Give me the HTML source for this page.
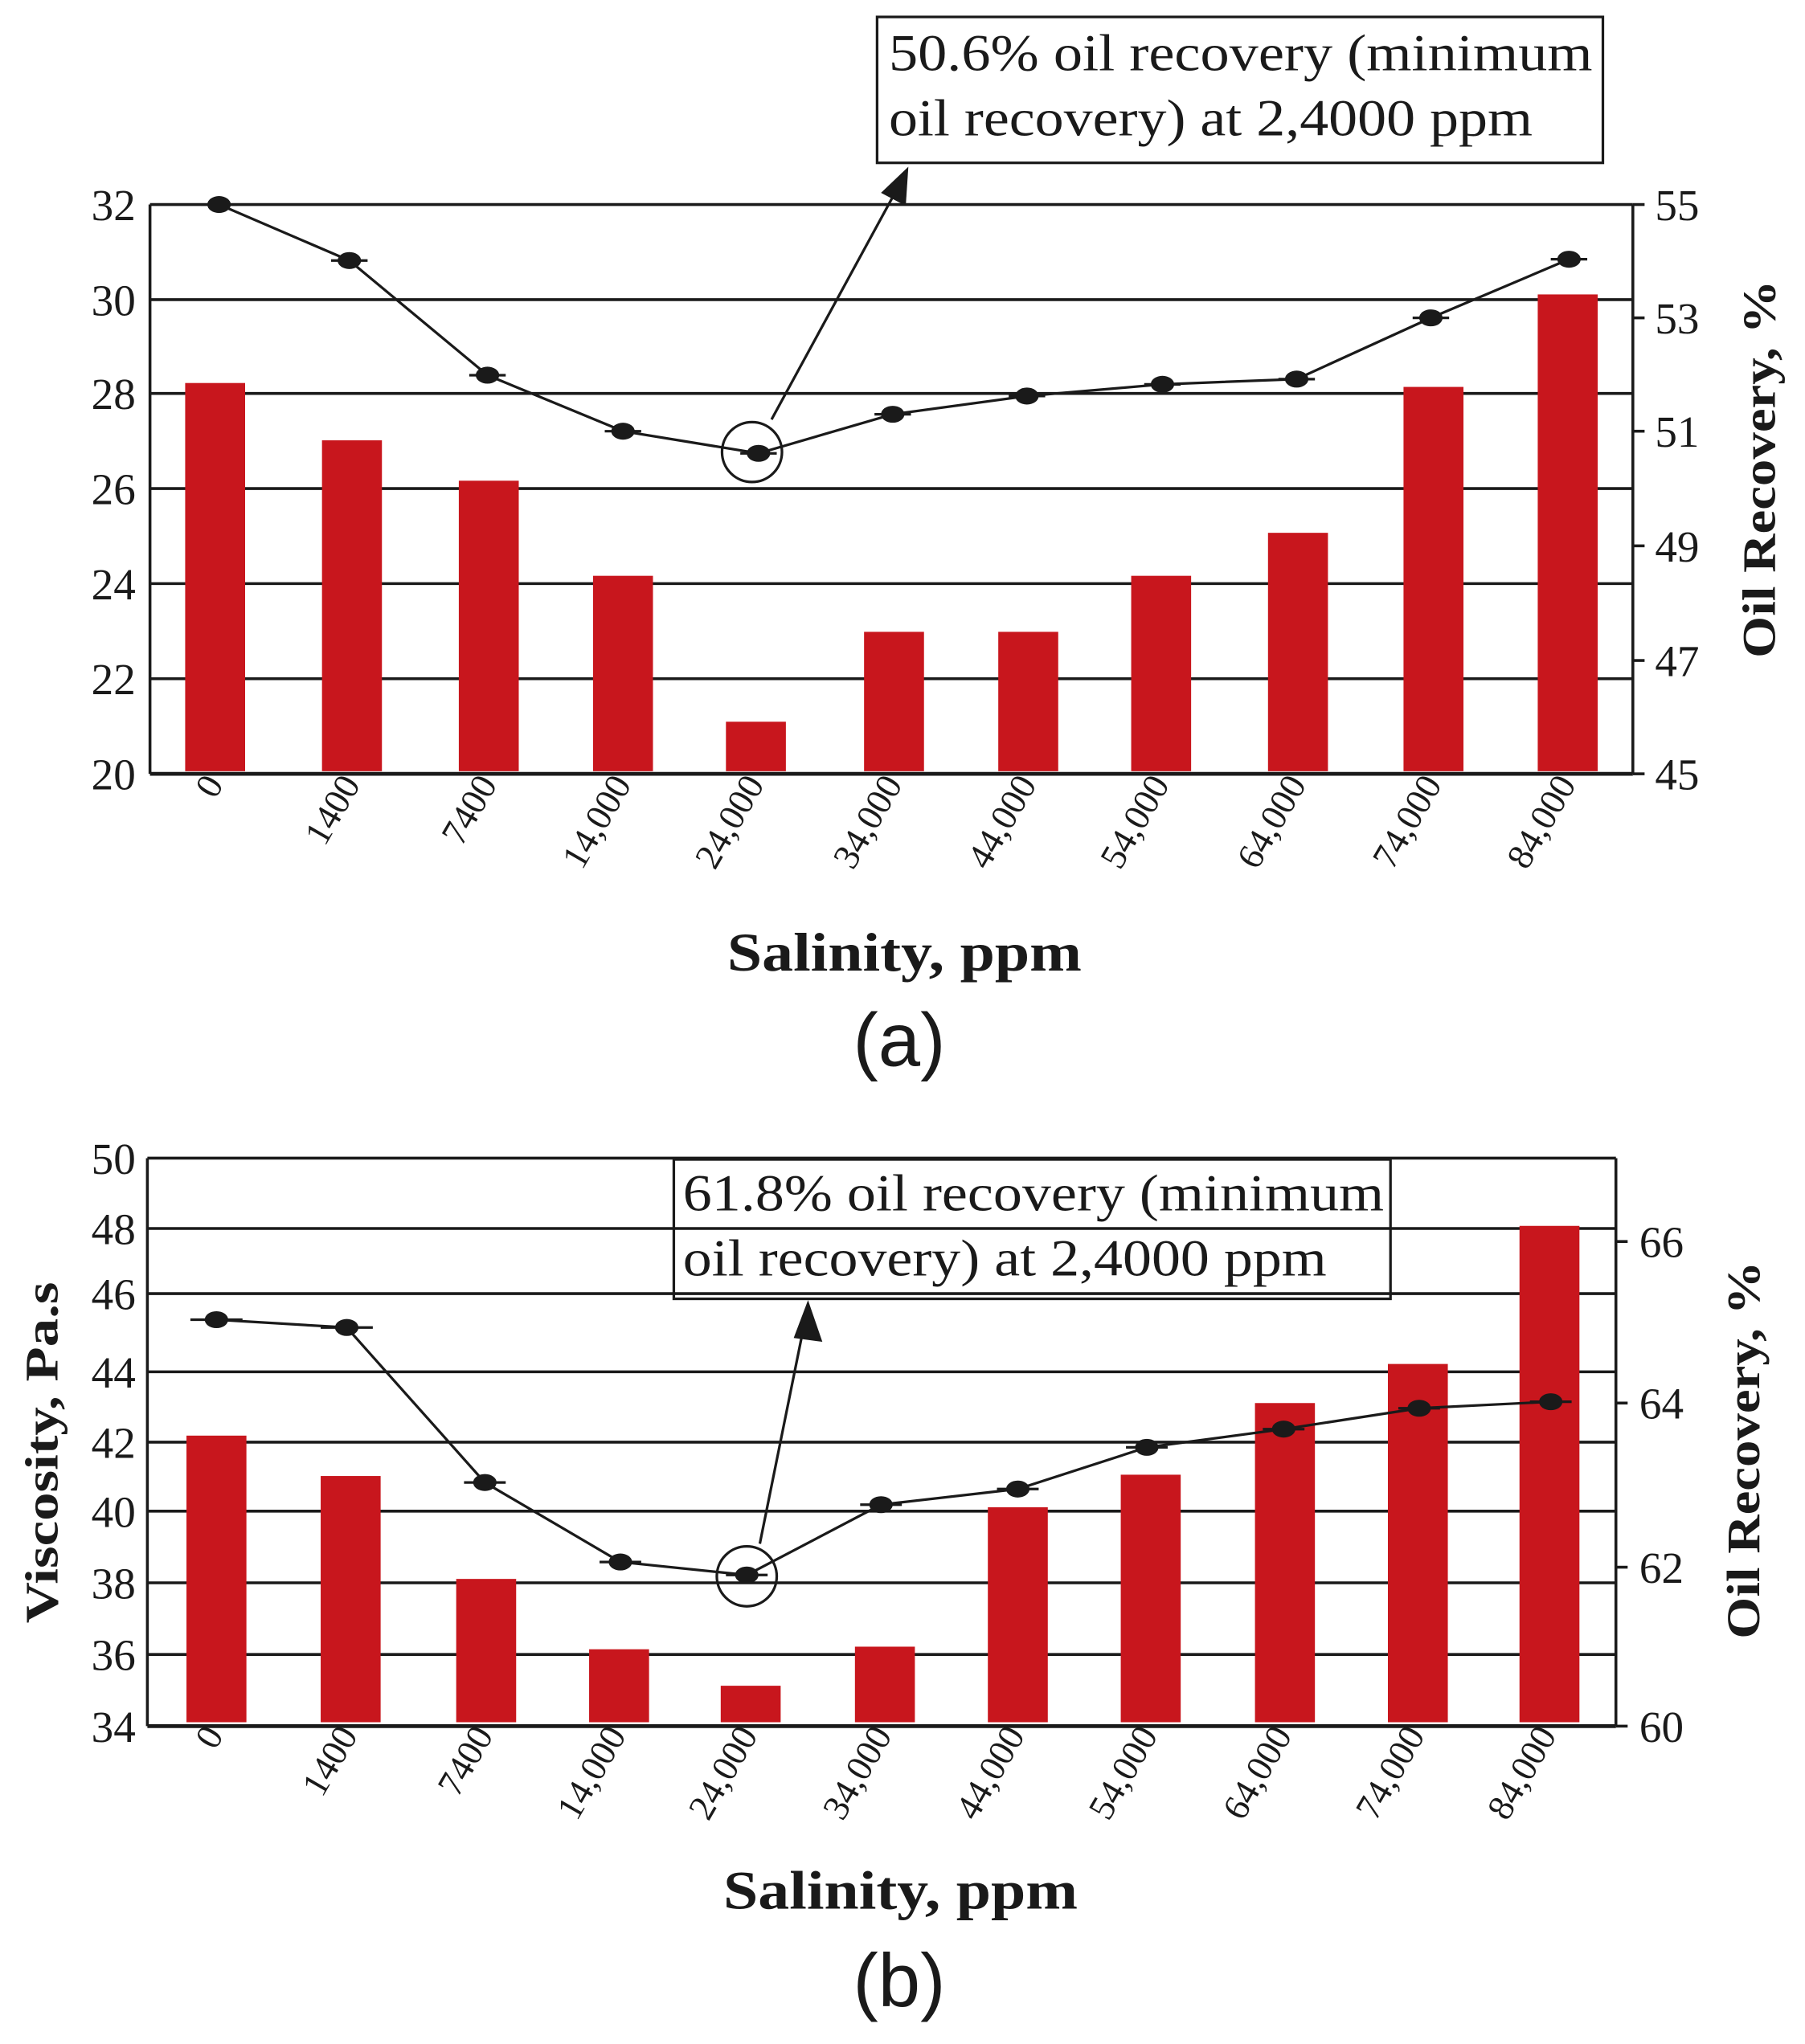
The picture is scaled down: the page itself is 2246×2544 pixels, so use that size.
<!DOCTYPE html>
<html><head><meta charset="utf-8"><style>
html,body{margin:0;padding:0;background:#fff;}
svg{display:block;}
.t{font-family:"Liberation Serif",serif;fill:#1a1a1a;}
.s{font-family:"Liberation Sans",sans-serif;fill:#1a1a1a;}
</style></head><body>
<svg width="2246" height="2544" viewBox="0 0 1385 1569" xmlns="http://www.w3.org/2000/svg">
<rect width="1385" height="1569" fill="#fff"/>
<g stroke="#1a1a1a" stroke-width="2.2">
<line x1="115" y1="157" x2="1253" y2="157"/>
<line x1="115" y1="230" x2="1253" y2="230"/>
<line x1="115" y1="302" x2="1253" y2="302"/>
<line x1="115" y1="375" x2="1253" y2="375"/>
<line x1="115" y1="448" x2="1253" y2="448"/>
<line x1="115" y1="521" x2="1253" y2="521"/>
<line x1="115" y1="157" x2="115" y2="594"/>
<line x1="1253" y1="157" x2="1253" y2="594"/>
<line x1="1253" y1="157" x2="1262" y2="157"/><line x1="1253" y1="244" x2="1262" y2="244"/><line x1="1253" y1="331" x2="1262" y2="331"/><line x1="1253" y1="419" x2="1262" y2="419"/><line x1="1253" y1="507" x2="1262" y2="507"/><line x1="1253" y1="594" x2="1262" y2="594"/>
</g>
<g fill="#c8161d">
<rect x="142" y="294" width="46" height="298"/>
<rect x="247" y="338" width="46" height="254"/>
<rect x="352" y="369" width="46" height="223"/>
<rect x="455" y="442" width="46" height="150"/>
<rect x="557" y="554" width="46" height="38"/>
<rect x="663" y="485" width="46" height="107"/>
<rect x="766" y="485" width="46" height="107"/>
<rect x="868" y="442" width="46" height="150"/>
<rect x="973" y="409" width="46" height="183"/>
<rect x="1077" y="297" width="46" height="295"/>
<rect x="1180" y="226" width="46" height="366"/>
</g>
<line x1="115" y1="594" x2="1253" y2="594" stroke="#1a1a1a" stroke-width="3"/>
<polyline fill="none" stroke="#1a1a1a" stroke-width="2" points="168,157 268,200 374,288 478,331 582,348 685,318 788,304 892,295 995,291 1098,244 1204,199"/>
<g stroke="#1a1a1a" stroke-width="2">
<line x1="154" y1="157" x2="182" y2="157"/><line x1="254" y1="200" x2="282" y2="200"/><line x1="360" y1="288" x2="388" y2="288"/><line x1="464" y1="331" x2="492" y2="331"/><line x1="568" y1="348" x2="596" y2="348"/><line x1="671" y1="318" x2="699" y2="318"/><line x1="774" y1="304" x2="802" y2="304"/><line x1="878" y1="295" x2="906" y2="295"/><line x1="981" y1="291" x2="1009" y2="291"/><line x1="1084" y1="244" x2="1112" y2="244"/><line x1="1190" y1="199" x2="1218" y2="199"/>
</g>
<g fill="#1a1a1a">
<ellipse cx="168" cy="157" rx="9" ry="6.5"/><ellipse cx="268" cy="200" rx="9" ry="6.5"/><ellipse cx="374" cy="288" rx="9" ry="6.5"/><ellipse cx="478" cy="331" rx="9" ry="6.5"/><ellipse cx="582" cy="348" rx="9" ry="6.5"/><ellipse cx="685" cy="318" rx="9" ry="6.5"/><ellipse cx="788" cy="304" rx="9" ry="6.5"/><ellipse cx="892" cy="295" rx="9" ry="6.5"/><ellipse cx="995" cy="291" rx="9" ry="6.5"/><ellipse cx="1098" cy="244" rx="9" ry="6.5"/><ellipse cx="1204" cy="199" rx="9" ry="6.5"/>
</g>
<ellipse cx="577" cy="347" rx="23" ry="23" fill="none" stroke="#1a1a1a" stroke-width="2"/>
<line x1="592" y1="322" x2="690" y2="142" stroke="#1a1a1a" stroke-width="2"/>
<polygon points="697,128 695,158 676,148" fill="#1a1a1a"/>
<rect x="673" y="13" width="557" height="112" fill="#fff" stroke="#1a1a1a" stroke-width="2"/>
<text class="t" x="682" y="54" font-size="40" textLength="540" lengthAdjust="spacingAndGlyphs">50.6% oil recovery (minimum</text>
<text class="t" x="682" y="104" font-size="40" textLength="494" lengthAdjust="spacingAndGlyphs">oil recovery) at 2,4000 ppm</text>
<g class="t" font-size="34" text-anchor="end">
<text x="104" y="169">32</text><text x="104" y="242">30</text><text x="104" y="314">28</text><text x="104" y="387">26</text><text x="104" y="460">24</text><text x="104" y="533">22</text><text x="104" y="606">20</text>
</g>
<g class="t" font-size="34">
<text x="1270" y="169">55</text><text x="1270" y="256">53</text><text x="1270" y="343">51</text><text x="1270" y="431">49</text><text x="1270" y="519">47</text><text x="1270" y="606">45</text>
</g>
<g class="t" font-size="28" text-anchor="end">
<text transform="translate(172,602) rotate(-60)">0</text>
<text transform="translate(277,602) rotate(-60)">1400</text>
<text transform="translate(382,602) rotate(-60)">7400</text>
<text transform="translate(485,602) rotate(-60)">14,000</text>
<text transform="translate(587,602) rotate(-60)">24,000</text>
<text transform="translate(693,602) rotate(-60)">34,000</text>
<text transform="translate(796,602) rotate(-60)">44,000</text>
<text transform="translate(898,602) rotate(-60)">54,000</text>
<text transform="translate(1003,602) rotate(-60)">64,000</text>
<text transform="translate(1107,602) rotate(-60)">74,000</text>
<text transform="translate(1210,602) rotate(-60)">84,000</text>
</g>
<text class="t" x="558" y="745" font-size="42" font-weight="bold" textLength="272" lengthAdjust="spacingAndGlyphs">Salinity, ppm</text>
<text class="s" x="690" y="818" font-size="58" text-anchor="middle">(a)</text>
<text class="t" transform="translate(1362,505) rotate(-90)" font-size="36" font-weight="bold" textLength="290" lengthAdjust="spacingAndGlyphs">Oil Recovery, %</text>

<g stroke="#1a1a1a" stroke-width="2.2">
<line x1="113" y1="889" x2="1240" y2="889"/>
<line x1="113" y1="943" x2="1240" y2="943"/>
<line x1="113" y1="993" x2="1240" y2="993"/>
<line x1="113" y1="1053" x2="1240" y2="1053"/>
<line x1="113" y1="1107" x2="1240" y2="1107"/>
<line x1="113" y1="1160" x2="1240" y2="1160"/>
<line x1="113" y1="1215" x2="1240" y2="1215"/>
<line x1="113" y1="1270" x2="1240" y2="1270"/>
<line x1="113" y1="889" x2="113" y2="1325"/>
<line x1="1240" y1="889" x2="1240" y2="1325"/>
<line x1="1240" y1="953" x2="1249" y2="953"/><line x1="1240" y1="1077" x2="1249" y2="1077"/><line x1="1240" y1="1203" x2="1249" y2="1203"/><line x1="1240" y1="1325" x2="1249" y2="1325"/>
</g>
<g fill="#c8161d">
<rect x="143" y="1102" width="46" height="220"/>
<rect x="246" y="1133" width="46" height="189"/>
<rect x="350" y="1212" width="46" height="110"/>
<rect x="452" y="1266" width="46" height="56"/>
<rect x="553" y="1294" width="46" height="28"/>
<rect x="656" y="1264" width="46" height="58"/>
<rect x="758" y="1157" width="46" height="165"/>
<rect x="860" y="1132" width="46" height="190"/>
<rect x="963" y="1077" width="46" height="245"/>
<rect x="1065" y="1047" width="46" height="275"/>
<rect x="1166" y="941" width="46" height="381"/>
</g>
<line x1="113" y1="1325" x2="1240" y2="1325" stroke="#1a1a1a" stroke-width="3"/>
<polyline fill="none" stroke="#1a1a1a" stroke-width="2" points="166,1013 266,1019 372,1138 476,1199 573,1209 676,1155 781,1143 880,1111 985,1097 1089,1081 1190,1076"/>
<g stroke="#1a1a1a" stroke-width="2">
<line x1="146" y1="1013" x2="186" y2="1013"/><line x1="246" y1="1019" x2="286" y2="1019"/><line x1="356" y1="1138" x2="388" y2="1138"/><line x1="460" y1="1199" x2="492" y2="1199"/><line x1="557" y1="1209" x2="589" y2="1209"/><line x1="660" y1="1155" x2="692" y2="1155"/><line x1="765" y1="1143" x2="797" y2="1143"/><line x1="864" y1="1111" x2="896" y2="1111"/><line x1="969" y1="1097" x2="1001" y2="1097"/><line x1="1073" y1="1081" x2="1105" y2="1081"/><line x1="1174" y1="1076" x2="1206" y2="1076"/>
</g>
<g fill="#1a1a1a">
<ellipse cx="166" cy="1013" rx="9" ry="6.5"/><ellipse cx="266" cy="1019" rx="9" ry="6.5"/><ellipse cx="372" cy="1138" rx="9" ry="6.5"/><ellipse cx="476" cy="1199" rx="9" ry="6.5"/><ellipse cx="573" cy="1209" rx="9" ry="6.5"/><ellipse cx="676" cy="1155" rx="9" ry="6.5"/><ellipse cx="781" cy="1143" rx="9" ry="6.5"/><ellipse cx="880" cy="1111" rx="9" ry="6.5"/><ellipse cx="985" cy="1097" rx="9" ry="6.5"/><ellipse cx="1089" cy="1081" rx="9" ry="6.5"/><ellipse cx="1190" cy="1076" rx="9" ry="6.5"/>
</g>
<ellipse cx="573" cy="1210" rx="23" ry="23" fill="none" stroke="#1a1a1a" stroke-width="2"/>
<line x1="583" y1="1185" x2="618" y2="1012" stroke="#1a1a1a" stroke-width="2"/>
<polygon points="620,998 631,1030 609,1027" fill="#1a1a1a"/>
<rect x="517" y="890" width="550" height="107" fill="none" stroke="#1a1a1a" stroke-width="2"/>
<text class="t" x="524" y="929" font-size="40" textLength="538" lengthAdjust="spacingAndGlyphs">61.8% oil recovery (minimum</text>
<text class="t" x="524" y="979" font-size="40" textLength="494" lengthAdjust="spacingAndGlyphs">oil recovery) at 2,4000 ppm</text>
<g class="t" font-size="34" text-anchor="end">
<text x="104" y="901">50</text><text x="104" y="955">48</text><text x="104" y="1005">46</text><text x="104" y="1065">44</text><text x="104" y="1119">42</text><text x="104" y="1172">40</text><text x="104" y="1227">38</text><text x="104" y="1282">36</text><text x="104" y="1337">34</text>
</g>
<g class="t" font-size="34">
<text x="1258" y="965">66</text><text x="1258" y="1089">64</text><text x="1258" y="1215">62</text><text x="1258" y="1337">60</text>
</g>
<g class="t" font-size="28" text-anchor="end">
<text transform="translate(172,1332) rotate(-60)">0</text>
<text transform="translate(275,1332) rotate(-60)">1400</text>
<text transform="translate(379,1332) rotate(-60)">7400</text>
<text transform="translate(481,1332) rotate(-60)">14,000</text>
<text transform="translate(582,1332) rotate(-60)">24,000</text>
<text transform="translate(685,1332) rotate(-60)">34,000</text>
<text transform="translate(787,1332) rotate(-60)">44,000</text>
<text transform="translate(889,1332) rotate(-60)">54,000</text>
<text transform="translate(992,1332) rotate(-60)">64,000</text>
<text transform="translate(1094,1332) rotate(-60)">74,000</text>
<text transform="translate(1195,1332) rotate(-60)">84,000</text>
</g>
<text class="t" x="555" y="1465" font-size="42" font-weight="bold" textLength="272" lengthAdjust="spacingAndGlyphs">Salinity, ppm</text>
<text class="s" x="690" y="1540" font-size="58" text-anchor="middle">(b)</text>
<text class="t" transform="translate(44,1246) rotate(-90)" font-size="36" font-weight="bold" textLength="262" lengthAdjust="spacingAndGlyphs">Viscosity, Pa.s</text>
<text class="t" transform="translate(1350,1258) rotate(-90)" font-size="36" font-weight="bold" textLength="290" lengthAdjust="spacingAndGlyphs">Oil Recovery, %</text>
</svg>
</body></html>
